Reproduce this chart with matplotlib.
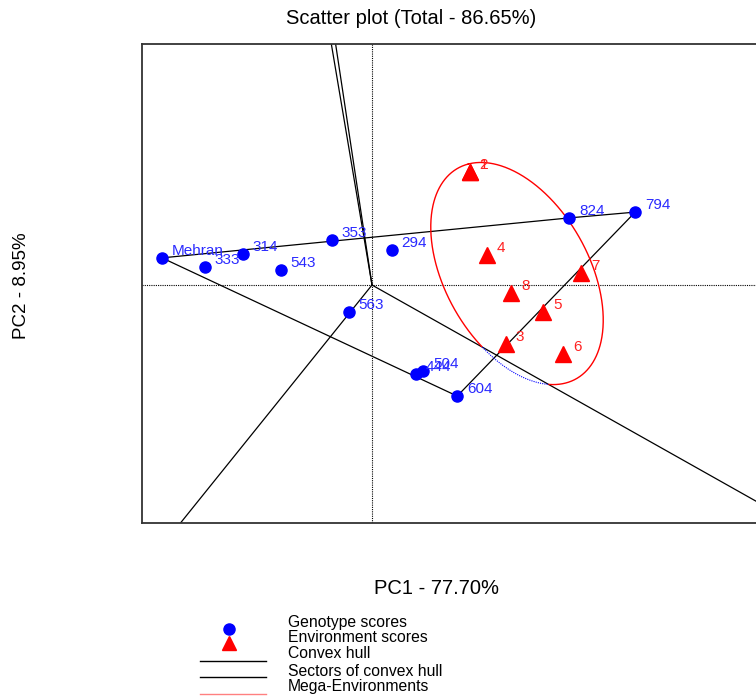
import numpy as np
import matplotlib
matplotlib.use("Agg")
import matplotlib.pyplot as plt
from matplotlib.lines import Line2D

plt.rcParams['font.family'] = ['Liberation Sans', 'DejaVu Sans']

# genotype scores (PC1, PC2)
genotypes = ["Mehran", "333", "314", "543", "353", "294", "563", "444", "504", "604", "824", "794"]
gen_pc1 = [-5.25, -4.18, -3.23, -2.28, -1.00, 0.50, -0.58, 1.10, 1.28, 2.13, 4.93, 6.58]
gen_pc2 = [0.89, 0.59, 1.02, 0.49, 1.48, 1.15, -0.89, -2.92, -2.82, -3.64, 2.20, 2.39]

# environment scores (PC1, PC2)
environments = ["2", "1", "4", "7", "8", "5", "3", "6"]
env_pc1 = [2.45, 2.45, 2.88, 5.23, 3.48, 4.28, 3.35, 4.78]
env_pc2 = [3.70, 3.70, 0.98, 0.39, -0.26, -0.89, -1.93, -2.26]

# convex hull vertices (genotype names, in order)
hull = ["Mehran", "824", "794", "604", "Mehran"]

# mega-environment ellipse: centre, semi-axes, angle (deg)
me_center = (3.625, 0.377)
me_axes = (3.79, 1.88)
me_angle = 108.7

fig = plt.figure(figsize=(7.56, 6.96), dpi=100)
ax = fig.add_axes([142 / 756, 173 / 696, 648 / 756, 479 / 696])
ax.set_xlim(-5.75, 10.45)
ax.set_ylim(-7.80, 7.90)
ax.set_xticks([])
ax.set_yticks([])
for s in ax.spines.values():
    s.set_linewidth(1.3)
    s.set_color("#333333")

ax.axhline(0, color="black", lw=0.8, ls=(0, (1, 1)), zorder=1)
ax.axvline(0, color="black", lw=0.8, ls=(0, (1, 1)), zorder=1)

gx = dict(zip(genotypes, gen_pc1))
gy = dict(zip(genotypes, gen_pc2))
hx = [gx[g] for g in hull]
hy = [gy[g] for g in hull]
ax.plot(hx, hy, color="black", lw=0.9, zorder=2)

# sector lines: perpendicular from origin to each hull edge
rays = []
for i in range(len(hull) - 1):
    p = np.array([hx[i], hy[i]])
    q = np.array([hx[i + 1], hy[i + 1]])
    d = q - p
    n = np.array([-d[1], d[0]])
    if np.dot(n, p) < 0:
        n = -n
    n = n / np.linalg.norm(n)
    rays.append(n)
    ax.plot([0, 60 * n[0]], [0, 60 * n[1]], color="black", lw=0.9, zorder=2)

# ellipse, with the part beyond the 794-604 sector line dotted blue
t = np.linspace(0, 2 * np.pi, 721)
th = np.deg2rad(me_angle)
ex = me_center[0] + me_axes[0] * np.cos(t) * np.cos(th) - me_axes[1] * np.sin(t) * np.sin(th)
ey = me_center[1] + me_axes[0] * np.cos(t) * np.sin(th) + me_axes[1] * np.sin(t) * np.cos(th)
r = rays[2]
side = ex * r[1] - ey * r[0]
inside = side < 0
ax.plot(np.where(inside, ex, np.nan), np.where(inside, ey, np.nan), color="red", lw=1.0, zorder=2)
ax.plot(np.where(~inside, ex, np.nan), np.where(~inside, ey, np.nan), color="blue", lw=0.8,
        ls=(0, (1, 1)), zorder=2)

ax.plot(gen_pc1, gen_pc2, "o", color="blue", ms=8, zorder=3)
ax.plot(env_pc1, env_pc2, "^", color="red", ms=11, mec="red", zorder=3)

for name, x, y in zip(genotypes, gen_pc1, gen_pc2):
    ax.annotate(name, (x, y), xytext=(7, 5), textcoords="offset points",
                color="#2a2aff", fontsize=11, va="center", ha="left", zorder=4)
for name, x, y in zip(environments, env_pc1, env_pc2):
    ax.annotate(name, (x, y), xytext=(7, 5), textcoords="offset points",
                color="#ff2222", fontsize=11, va="center", ha="left", zorder=4)

fig.text(411 / 756, 1 - 18 / 696, "Scatter plot (Total - 86.65%)", ha="center", va="center", fontsize=14.5)
fig.text(437 / 756, 1 - 588 / 696, "PC1 - 77.70%", ha="center", va="center", fontsize=14.5)
fig.text(22 / 756, 1 - 286 / 696, "PC2 - 8.95%", ha="center", va="center", fontsize=13.5, rotation=90)

# legend
legend_text = ["Genotype scores", "Environment scores", "Convex hull",
               "Sectors of convex hull", "Mega-Environments"]
text_y = [623, 638, 654, 671, 687]
for s, y in zip(legend_text, text_y):
    fig.text(288 / 756, 1 - y / 696, s, ha="left", va="center", fontsize=11.3)
fig.add_artist(Line2D([229 / 756], [1 - 629 / 696], marker="o", color="blue", ms=8, ls="none",
                      transform=fig.transFigure))
fig.add_artist(Line2D([229 / 756], [1 - 643 / 696], marker="^", color="red", ms=10, ls="none",
                      transform=fig.transFigure))
for y, c in zip([661, 677, 694], ["black", "black", "#ff8080"]):
    fig.add_artist(Line2D([200 / 756, 266 / 756], [1 - y / 696, 1 - y / 696], color=c, lw=1.0,
                          transform=fig.transFigure))

fig.savefig("out.png", dpi=100)
